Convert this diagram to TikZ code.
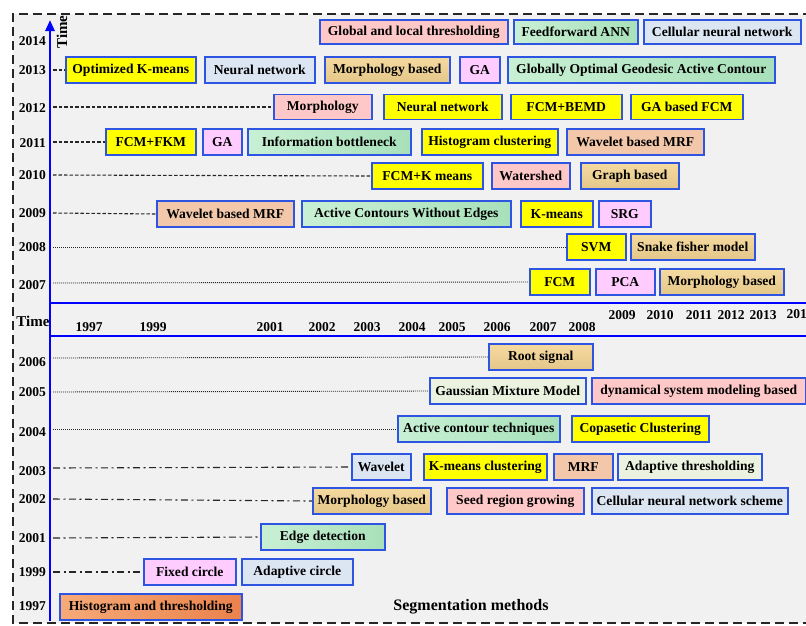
\documentclass[tikz,border=0pt]{standalone}
\usepackage{fontspec}
\setmainfont{Liberation Serif}
\usetikzlibrary{arrows.meta}
\definecolor{bb}{RGB}{45,85,225}
\definecolor{cyel}{RGB}{255,255,0}
\definecolor{cpink}{RGB}{255,200,200}
\definecolor{cgreenL}{RGB}{200,240,212}
\definecolor{cgreenD}{RGB}{168,224,186}
\definecolor{cblue}{RGB}{220,230,243}
\definecolor{ctanL}{RGB}{245,218,160}
\definecolor{ctanD}{RGB}{228,198,136}
\definecolor{cviol}{RGB}{255,204,255}
\definecolor{cpeach}{RGB}{243,200,170}
\definecolor{cpale}{RGB}{235,242,223}
\definecolor{corL}{RGB}{246,170,120}
\definecolor{corD}{RGB}{234,130,76}
\definecolor{bgc}{RGB}{241,241,241}
\definecolor{axblue}{RGB}{0,0,255}
\begin{document}
\begin{tikzpicture}[x=1pt,y=-1pt,
  bx/.style={draw=bb, line width=1.5pt, anchor=west, minimum height=26pt,
    inner xsep=1pt, inner ysep=0pt, text=black,
    font=\bfseries\fontsize{13.6}{15}\selectfont},
  yel/.style={bx, fill=cyel},
  pnk/.style={bx, fill=cpink},
  grn/.style={bx, left color=cgreenL, right color=cgreenD},
  blu/.style={bx, fill=cblue},
  tan/.style={bx, top color=ctanL, bottom color=ctanD},
  vio/.style={bx, fill=cviol},
  pch/.style={bx, fill=cpeach},
  pal/.style={bx, fill=cpale},
  org/.style={bx, left color=corL, right color=corD},
  yr/.style={font=\bfseries\fontsize{13.5}{15}\selectfont, inner sep=0pt},
  dashc/.style={line width=1.1pt, dash pattern=on 3.5pt off 2pt, black!85},
  dotc/.style={line width=0.9pt, dash pattern=on 1pt off 1pt, black!85},
  dashdotc/.style={line width=1.1pt, dash pattern=on 7pt off 3.5pt on 2pt off 3.5pt, black!85},
  axisline/.style={axblue, line width=2.6pt},
  border/.style={line width=2.4pt, dash pattern=on 9pt off 5pt, black!85}]
\useasboundingbox (0,0) rectangle (806,625);
\clip (0,0) rectangle (806,625);
\fill[white] (0,0) rectangle (806,625);
\fill[bgc] (13,14) rectangle (840,623);
\draw[border] (840,623) -- (13,623) -- (13,14) -- (840,14);

% axes
\coordinate (axb) at (50,621);
\coordinate (axt) at (50,20);
\coordinate (h1l) at (50,303);
\coordinate (h1r) at (820,303);
\coordinate (h2l) at (50,336);
\coordinate (h2r) at (820,336);
\draw[axisline, -{Triangle[length=11pt,width=9pt]}] (axb) -- (axt);
\draw[axisline] (h1l) -- (h1r);
\draw[axisline] (h2l) -- (h2r);

\node[yr, rotate=90, font=\bfseries\fontsize{15}{16}\selectfont] (time1) at (62,32) {Time};
\node[yr, font=\bfseries\fontsize{15}{16}\selectfont] (time2) at (33,321) {Time};

% horizontal year labels
\node[yr] (x1997) at (89,327) {1997};
\node[yr] (x1999) at (153,327) {1999};
\node[yr] (x2001) at (270,327) {2001};
\node[yr] (x2002) at (322,327) {2002};
\node[yr] (x2003) at (367,327) {2003};
\node[yr] (x2004) at (412,327) {2004};
\node[yr] (x2005) at (452,327) {2005};
\node[yr] (x2006) at (497,327) {2006};
\node[yr] (x2007) at (543,327) {2007};
\node[yr] (x2008) at (582,327) {2008};
\node[yr] (x2009) at (622,315) {2009};
\node[yr] (x2010) at (660,315) {2010};
\node[yr] (x2011) at (699,315) {2011};
\node[yr] (x2012) at (731,315) {2012};
\node[yr] (x2013) at (763,315) {2013};
\node[yr] (x2014) at (800,314) {2014};

% vertical year labels
\node[yr, anchor=east] (y2014) at (46,41) {2014};
\node[yr, anchor=east] (y2013) at (46,70) {2013};
\node[yr, anchor=east] (y2012) at (46,108) {2012};
\node[yr, anchor=east] (y2011) at (46,143) {2011};
\node[yr, anchor=east] (y2010) at (46,175) {2010};
\node[yr, anchor=east] (y2009) at (46,213) {2009};
\node[yr, anchor=east] (y2008) at (46,247) {2008};
\node[yr, anchor=east] (y2007) at (46,285) {2007};
\node[yr, anchor=east] (y2006) at (46,362) {2006};
\node[yr, anchor=east] (y2005) at (46,392) {2005};
\node[yr, anchor=east] (y2004) at (46,432) {2004};
\node[yr, anchor=east] (y2003) at (46,471) {2003};
\node[yr, anchor=east] (y2002) at (46,499) {2002};
\node[yr, anchor=east] (y2001) at (46,538) {2001};
\node[yr, anchor=east] (y1999) at (46,572) {1999};
\node[yr, anchor=east] (y1997) at (46,606) {1997};

% 2014
\node[pnk, minimum width=188, minimum height=24] (b14a) at (319,32) {Global and local thresholding};
\node[grn, minimum width=124, minimum height=24] (b14b) at (513,32) {Feedforward ANN};
\node[blu, minimum width=157, minimum height=24] (b14c) at (643,32) {Cellular neural network};
% 2013
\node[yel, minimum width=130] (b13a) at (65,70) {Optimized K-means};
\node[blu, minimum width=110] (b13b) at (204,70) {Neural network};
\node[tan, minimum width=125] (b13c) at (324,70) {Morphology based};
\node[vio, minimum width=40] (b13d) at (459,70) {GA};
\node[grn, minimum width=267] (b13e) at (507,70) {Globally Optimal Geodesic Active Contour};
% 2012
\node[pnk, minimum width=98, minimum height=25] (b12a) at (273,107) {Morphology};
\node[yel, minimum width=118, minimum height=25] (b12b) at (383,107) {Neural network};
\node[yel, minimum width=111, minimum height=25] (b12c) at (510,107) {FCM+BEMD};
\node[yel, minimum width=112, minimum height=25] (b12d) at (630,107) {GA based FCM};
% 2011
\node[yel, minimum width=90] (b11a) at (105,142) {FCM+FKM};
\node[vio, minimum width=39] (b11b) at (202,142) {GA};
\node[grn, minimum width=163] (b11c) at (247,142) {Information bottleneck};
\node[yel, minimum width=136] (b11d) at (421,142) {Histogram clustering};
\node[pch, minimum width=137] (b11e) at (566,142) {Wavelet based MRF};
% 2010
\node[yel, minimum width=111] (b10a) at (371,176) {FCM+K means};
\node[pnk, minimum width=78] (b10b) at (491,176) {Watershed};
\node[tan, minimum width=98] (b10c) at (580,176) {Graph based};
% 2009
\node[pch, minimum width=137] (b09a) at (156,214) {Wavelet based MRF};
\node[grn, minimum width=209] (b09b) at (301,214) {Active Contours Without Edges};
\node[yel, minimum width=72] (b09c) at (520,214) {K-means};
\node[vio, minimum width=52] (b09d) at (598,214) {SRG};
% 2008
\node[yel, minimum width=59] (b08a) at (566,247) {SVM};
\node[tan, minimum width=124] (b08b) at (630,247) {Snake fisher model};
% 2007
\node[yel, minimum width=60] (b07a) at (529,282) {FCM};
\node[vio, minimum width=59] (b07b) at (595,282) {PCA};
\node[tan, minimum width=124] (b07c) at (659,282) {Morphology based};
% 2006
\node[tan, minimum width=104] (b06a) at (488,357) {Root signal};
% 2005
\node[pal, minimum width=156] (b05a) at (429,391) {Gaussian Mixture Model};
\node[pnk, minimum width=214] (b05b) at (591,391) {dynamical system modeling based};
% 2004
\node[grn, minimum width=162] (b04a) at (397,429) {Active contour techniques};
\node[yel, minimum width=137] (b04b) at (571,429) {Copasetic Clustering};
% 2003
\node[blu, minimum width=59] (b03a) at (351,467) {Wavelet};
\node[yel, minimum width=123] (b03b) at (423,467) {K-means clustering};
\node[pch, minimum width=59] (b03c) at (553,467) {MRF};
\node[pal, minimum width=144] (b03d) at (617,467) {Adaptive thresholding};
% 2002
\node[tan, minimum width=118] (b02a) at (312,501) {Morphology based};
\node[pnk, minimum width=137] (b02b) at (446,501) {Seed region growing};
\node[blu, minimum width=196] (b02c) at (591,501) {Cellular neural network scheme};
% 2001
\node[grn, minimum width=124] (b01a) at (260,537) {Edge detection};
% 1999
\node[vio, minimum width=92] (b99a) at (143,572) {Fixed circle};
\node[blu, minimum width=111] (b99b) at (241,572) {Adaptive circle};
% 1997
\node[org, minimum width=182] (b97a) at (59,607) {Histogram and thresholding};

\node[font=\bfseries\fontsize{16}{18}\selectfont] (seg) at (471,607) {Segmentation methods};

% connectors
\coordinate (c13) at (53,70);
\coordinate (c12) at (53,107);
\coordinate (c11) at (53,142);
\coordinate (c10) at (53,175);
\coordinate (c09) at (53,213);
\coordinate (c08) at (53,247);
\coordinate (c07) at (53,283);
\coordinate (c06) at (53,358);
\coordinate (c05) at (53,392);
\coordinate (c04) at (53,429);
\coordinate (c03) at (53,468);
\coordinate (c02) at (53,499);
\coordinate (c01) at (53,538);
\coordinate (c99) at (53,572);
\draw[dashc] (c13) -- (b13a.west);
\draw[dashc] (c12) -- (b12a.west);
\draw[dashc] (c11) -- (b11a.west);
\draw[dashc] (c10) -- (b10a.west);
\draw[dashc] (c09) -- (b09a.west);
\draw[dotc] (c08) -- (b08a.west);
\draw[dotc] (c07) -- (b07a.west);
\draw[dotc] (c06) -- (b06a.west);
\draw[dotc] (c05) -- (b05a.west);
\draw[dotc] (c04) -- (b04a.west);
\draw[dashdotc] (c03) -- (b03a.west);
\draw[dashdotc] (c02) -- (b02a.west);
\draw[dashdotc] (c01) -- (b01a.west);
\draw[dashdotc] (c99) -- (b99a.west);
\end{tikzpicture}
\end{document}
